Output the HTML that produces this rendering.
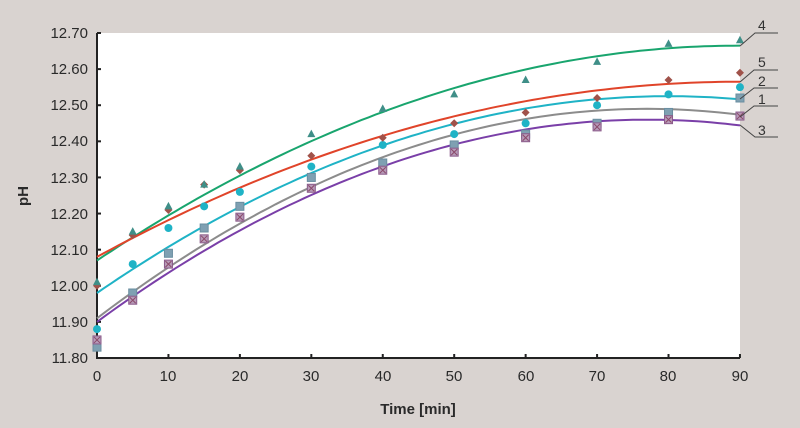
<!DOCTYPE html>
<html><head><meta charset="utf-8"><style>
body{margin:0;background:#d9d3d0;}
svg{display:block;font-family:"Liberation Sans",sans-serif;}
</style></head><body>
<svg id="s" width="800" height="428" xmlns="http://www.w3.org/2000/svg">
<rect width="800" height="428" fill="#d9d3d0"/>
<rect x="97" y="33" width="643" height="325" fill="#fff"/>
<g font-size="15" fill="#2a2a2a" text-anchor="end">
<text x="88" y="38">12.70</text><text x="88" y="74">12.60</text><text x="88" y="110">12.50</text>
<text x="88" y="146">12.40</text><text x="88" y="183">12.30</text><text x="88" y="219">12.20</text>
<text x="88" y="255">12.10</text><text x="88" y="291">12.00</text><text x="88" y="327">11.90</text>
<text x="88" y="363">11.80</text>
</g>
<g font-size="15" fill="#2a2a2a" text-anchor="middle">
<text x="97" y="381">0</text><text x="168" y="381">10</text><text x="240" y="381">20</text>
<text x="311" y="381">30</text><text x="383" y="381">40</text><text x="454" y="381">50</text>
<text x="526" y="381">60</text><text x="597" y="381">70</text><text x="668" y="381">80</text>
<text x="740" y="381">90</text>
</g>
<text x="418" y="414" font-size="15" font-weight="bold" text-anchor="middle" fill="#2a2a2a">Time [min]</text>
<text transform="translate(28,196) rotate(-90)" font-size="15" font-weight="bold" text-anchor="middle" fill="#2a2a2a">pH</text>
<g id="ax" stroke="#222" stroke-width="2" fill="none"></g>
<g id="cv" fill="none" stroke-width="2"></g>
<g id="mk"></g>
<g stroke="#444" stroke-width="1" fill="none">
<polyline points="740,46 755,33 778,33"/>
<polyline points="740,82 754,70 778,70"/>
<polyline points="740,99 754,88 778,88"/>
<polyline points="740,117 754,106 778,106"/>
<polyline points="740,125 755,137 778,137"/>
</g>
<g font-size="14" fill="#333">
<text x="758" y="30">4</text><text x="758" y="67">5</text><text x="758" y="86">2</text>
<text x="758" y="104">1</text><text x="758" y="135">3</text>
</g>
</svg>
<script>
const NS="http://www.w3.org/2000/svg";
const X=t=>97+t*7.144, Y=v=>33+(12.70-v)*361.1;
function el(p,tag,a){const e=document.createElementNS(NS,tag);for(const k in a)e.setAttribute(k,a[k]);document.getElementById(p).appendChild(e);return e;}
let d="M97,33 V358 H740";
el("ax","path",{d:d});
for(let i=0;i<10;i++){el("ax","line",{x1:97,x2:101,y1:Y(12.7-i*0.1),y2:Y(12.7-i*0.1)});}
for(let i=0;i<=9;i++){el("ax","line",{x1:X(i*10),x2:X(i*10),y1:358,y2:354});}
const curves=[
 ["#19a56e",12.665,90,0.595/8100],
 ["#e0442a",12.565,90,0.485/8100],
 ["#1fb3c6",12.525,80,0.545/6400],
 ["#8c8c8c",12.49,77,0.58/5929],
 ["#7a3fa8",12.46,77,0.56/5929]];
curves.forEach(c=>{let p="";for(let t=0;t<=90;t+=1){const v=c[1]-c[3]*(c[2]-t)**2;p+=(t?"L":"M")+X(t).toFixed(1)+","+Y(v).toFixed(1);}el("cv","path",{d:p,stroke:c[0]});});
const ts=[0,5,10,15,20,30,40,50,60,70,80,90];
const data={
 tri:[12.01,12.15,12.22,12.28,12.33,12.42,12.49,12.53,12.57,12.62,12.67,12.68],
 dia:[12.00,12.14,12.21,12.28,12.32,12.36,12.41,12.45,12.48,12.52,12.57,12.59],
 cir:[11.88,12.06,12.16,12.22,12.26,12.33,12.39,12.42,12.45,12.50,12.53,12.55],
 sq:[11.83,11.98,12.09,12.16,12.22,12.30,12.34,12.39,12.42,12.45,12.48,12.52],
 xs:[11.85,11.96,12.06,12.13,12.19,12.27,12.32,12.37,12.41,12.44,12.46,12.47]};
ts.forEach((t,i)=>{const x=X(t);let y;
 y=Y(data.sq[i]);el("mk","rect",{x:x-4,y:y-4,width:8,height:8,fill:"#7fa0b2",stroke:"#6a8ea0"});
 y=Y(data.xs[i]);el("mk","rect",{x:x-4,y:y-4,width:8,height:8,fill:"#b79bb8",stroke:"#8a5a8a"});
 el("mk","path",{d:`M${x-3},${y-3}L${x+3},${y+3}M${x+3},${y-3}L${x-3},${y+3}`,stroke:"#8a4a6a","stroke-width":1});
 y=Y(data.cir[i]);el("mk","circle",{cx:x,cy:y,r:4,fill:"#1fb3c6"});
 y=Y(data.dia[i]);el("mk","path",{d:`M${x},${y-4}L${x+4},${y}L${x},${y+4}L${x-4},${y}Z`,fill:"#a0524a"});
 y=Y(data.tri[i]);el("mk","path",{d:`M${x},${y-4.5}L${x+4},${y+3}L${x-4},${y+3}Z`,fill:"#3f8f88"});
});
</script>
</body></html>
